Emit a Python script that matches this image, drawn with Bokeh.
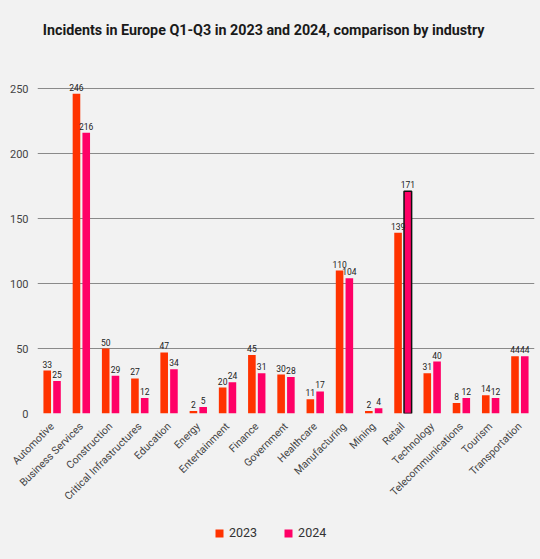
import math
from bokeh.plotting import figure
from bokeh.layouts import column
from bokeh.models import ColumnDataSource, FactorRange, Range1d, Legend, LegendItem, SingleIntervalTicker
from bokeh.transform import dodge
from bokeh.embed import file_html
from bokeh.resources import INLINE
from bokeh.core.properties import value

title_text = "Incidents in Europe Q1-Q3 in 2023 and 2024, comparison by industry"
industries = ["Automotive", "Business Services", "Construction", "Critical Infrastructures",
              "Education", "Energy", "Entertainment", "Finance", "Government", "Healthcare",
              "Manufacturing", "Mining", "Retail", "Technology", "Telecommunications",
              "Tourism", "Transportation"]
incidents_2023 = [33, 246, 50, 27, 47, 2, 20, 45, 30, 11, 110, 2, 139, 31, 8, 14, 44]
incidents_2024 = [25, 216, 29, 12, 34, 5, 24, 31, 28, 17, 104, 4, 171, 40, 12, 12, 44]
series = ["2023", "2024"]

C23 = "#ff3300"
C24 = "#ff0066"
BG = "#f2f2f2"
FONT = "Roboto"

highlight = "Retail"
line24 = ["#111111" if c == highlight else C24 for c in industries]
lw24 = [1.5 if c == highlight else 0 for c in industries]

src = ColumnDataSource(dict(cat=industries, v23=incidents_2023, v24=incidents_2024,
                            t23=[str(v) for v in incidents_2023],
                            t24=[str(v) for v in incidents_2024],
                            lc24=line24, lw24=lw24))


def strip(h):
    f = figure(width=540, height=h, x_range=Range1d(0, 1), y_range=Range1d(0, 1),
               x_axis_type=None, y_axis_type=None, output_backend="svg",
               toolbar_location=None, min_border_left=0, min_border_right=0,
               min_border_top=0, min_border_bottom=0)
    f.background_fill_color = BG
    f.border_fill_color = BG
    f.outline_line_color = None
    f.grid.visible = False
    return f


# title strip
hd = strip(50)
hd.text(x=[0.455], y=[0.42], text=[title_text], text_align="center", text_baseline="middle",
        text_font=value(FONT), text_font_size="14.3px", text_font_style="bold",
        text_color="#1a1a1a")

p = figure(width=540, height=460, x_range=FactorRange(*industries, range_padding=0),
           y_range=Range1d(0, 265.4), output_backend="svg", toolbar_location=None,
           min_border_left=37, min_border_right=6, min_border_top=18, min_border_bottom=97)

p.background_fill_color = BG
p.border_fill_color = BG
p.outline_line_color = None

W = 0.26
OFF = 0.167
r23 = p.vbar(x=dodge("cat", -OFF, range=p.x_range), top="v23", width=W, source=src,
             fill_color=C23, line_color=None)
r24 = p.vbar(x=dodge("cat", OFF, range=p.x_range), top="v24", width=W, source=src,
             fill_color=C24, line_color="lc24", line_width="lw24")

for col, tcol, off in (("v23", "t23", -OFF), ("v24", "t24", OFF)):
    p.text(x=dodge("cat", off, range=p.x_range), y=col, text=tcol, source=src,
           text_align="center", text_baseline="bottom", y_offset=-3,
           text_font=value(FONT), text_font_size="8.5px", text_font_style="normal",
           text_color="#222222")

p.yaxis.ticker = SingleIntervalTicker(interval=50)
p.yaxis.axis_line_color = None
p.yaxis.major_tick_line_color = None
p.yaxis.minor_tick_line_color = None
p.yaxis.major_label_text_font = FONT
p.yaxis.major_label_text_font_size = "11px"
p.yaxis.major_label_text_color = "#444444"
p.yaxis.major_label_standoff = 3

p.xaxis.axis_line_color = None
p.xaxis.major_tick_line_color = None
p.xaxis.major_label_orientation = math.pi / 4
p.xaxis.major_label_text_font = FONT
p.xaxis.major_label_text_font_size = "10.5px"
p.xaxis.major_label_text_color = "#444444"
p.xaxis.major_label_standoff = 5

p.xgrid.grid_line_color = None
p.ygrid.grid_line_color = "#8a8a8a"
p.ygrid.grid_line_width = 1

# legend strip below the chart
lg = strip(49)
d23 = lg.vbar(x=[-1], top=[-1], width=0.01, fill_color=C23, line_color=None)
d24 = lg.vbar(x=[-1], top=[-1], width=0.01, fill_color=C24, line_color=None)
legend = Legend(items=[LegendItem(label=series[0], renderers=[d23]),
                       LegendItem(label=series[1], renderers=[d24])],
                orientation="horizontal", location=(177, 19),
                background_fill_alpha=0, border_line_color=None,
                label_text_font=FONT, label_text_font_size="12.5px",
                label_text_color="#333333", glyph_width=10, glyph_height=10,
                label_standoff=5, spacing=26, padding=0, margin=0)
lg.add_layout(legend, "center")

layout = column(hd, p, lg, spacing=0, styles={"background-color": BG})
open("out.html", "w").write(file_html(layout, INLINE))
